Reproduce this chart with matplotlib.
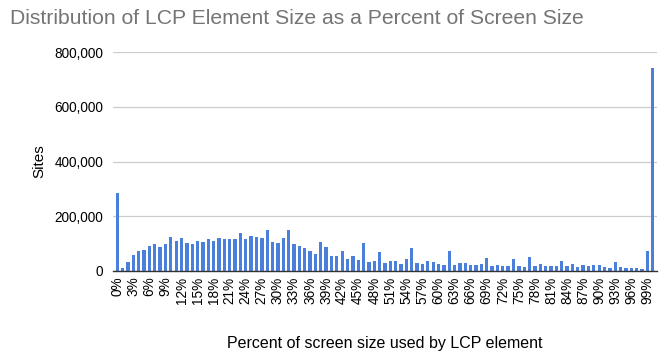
import numpy as np
import matplotlib
matplotlib.use("Agg")
import matplotlib.pyplot as plt
from matplotlib.ticker import FuncFormatter, MultipleLocator

plt.rcParams["font.family"] = ["Liberation Sans", "DejaVu Sans"]

# percent of screen size (0..100) and number of sites
percents = list(range(0, 101))
sites = [
    284000, 11000, 32000, 57000, 72000, 76000, 90000, 100000, 87000, 98000,
    123000, 109000, 119000, 101000, 98000, 109000, 105000, 116000, 109000, 119000,
    116000, 116000, 116000, 138000, 116000, 127000, 123000, 119000, 149000, 105000,
    101000, 119000, 149000, 97000, 90000, 83000, 72000, 61000, 105000, 87000,
    54000, 54000, 72000, 43000, 54000, 39000, 101000, 32000, 35000, 68000,
    28000, 35000, 35000, 24000, 43000, 83000, 28000, 24000, 35000, 32000,
    24000, 21000, 72000, 21000, 28000, 28000, 21000, 21000, 24000, 47000,
    17000, 21000, 17000, 17000, 43000, 17000, 13000, 50000, 17000, 24000,
    17000, 17000, 17000, 35000, 17000, 24000, 13000, 21000, 17000, 21000,
    21000, 13000, 10000, 32000, 13000, 10000, 10000, 10000, 6000, 72000,
    740000,
]
tick_pos = list(range(0, 100, 3))
tick_labels = [f"{p}%" for p in tick_pos]

fig = plt.figure(figsize=(6.66, 3.58), dpi=100)
ax = fig.add_axes([113 / 666, 87 / 358, 544 / 666, 219 / 358])

ax.bar(percents, sites, width=0.62, color="#4a7fdc", zorder=3)

ax.set_xlim(-0.8, 100.8)
ax.set_ylim(0, 800000)
ax.yaxis.set_major_locator(MultipleLocator(200000))
ax.yaxis.set_major_formatter(FuncFormatter(lambda v, _: f"{int(v):,}"))
ax.set_xticks(tick_pos)
ax.set_xticklabels(tick_labels, rotation=90, fontsize=9.8)
ax.tick_params(axis="y", labelsize=9.8, length=0, pad=7)
ax.tick_params(axis="x", length=0, pad=4)

ax.grid(axis="y", color="#cccccc", linewidth=0.9, zorder=0)
for side in ["top", "right", "left"]:
    ax.spines[side].set_visible(False)
ax.spines["bottom"].set_color("#333333")
ax.spines["bottom"].set_linewidth(1.0)
ax.spines["bottom"].set_zorder(4)

ax.set_ylabel("Sites", fontsize=11, labelpad=6)
ax.set_xlabel("Percent of screen size used by LCP element", fontsize=11.5, labelpad=23)
fig.text(10 / 666, 1 - 19 / 358, "Distribution of LCP Element Size as a Percent of Screen Size",
         fontsize=15.2, color="#757575", va="center", ha="left")

fig.savefig("out.png", dpi=100)
